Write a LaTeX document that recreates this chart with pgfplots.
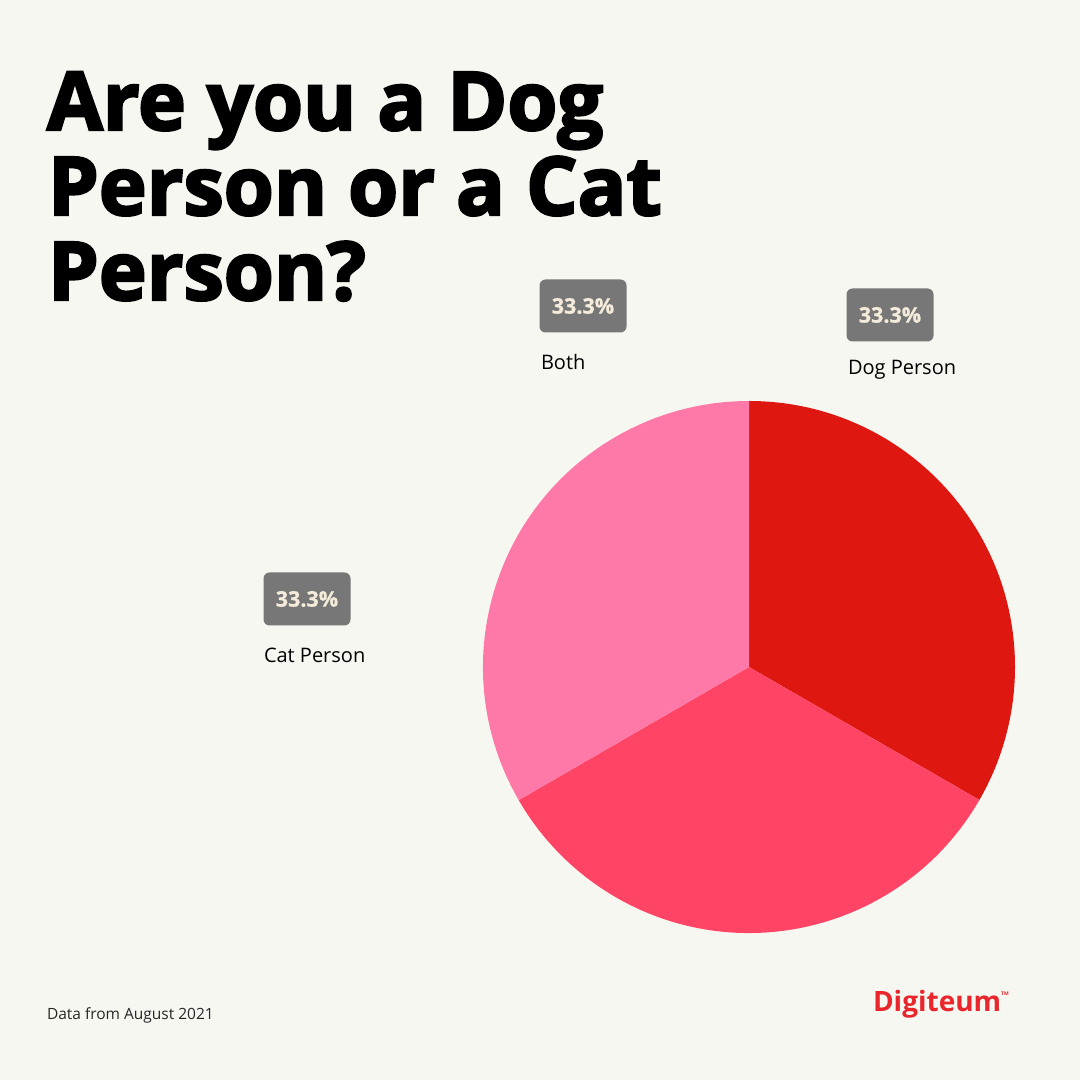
\documentclass[border=0pt]{standalone}
\usepackage{pgfplots}
\pgfplotsset{compat=1.18}
\usepackage{pgfplotstable}
\usepackage{fontspec}
\setmainfont{Open Sans}
\newfontfamily\titlefont[FakeBold=3]{Open Sans}
\newfontfamily\boxfont[FakeBold=1]{Open Sans}
\definecolor{bg}{HTML}{F7F7F2}
\definecolor{sliceA}{HTML}{DF1711}
\definecolor{sliceB}{HTML}{FF4466}
\definecolor{sliceC}{HTML}{FF79A8}
\definecolor{boxgray}{HTML}{777777}
\definecolor{cream}{HTML}{F4EBDA}
\definecolor{logored}{HTML}{E8262B}
\pgfplotstableread{
label share
Dog 33.33
Both 33.33
Cat 33.34
}\piedata
\pgfplotstablegetelem{0}{share}\of\piedata \let\sA\pgfplotsretval
\pgfplotstablegetelem{1}{share}\of\piedata \let\sB\pgfplotsretval
\pgfplotstablegetelem{2}{share}\of\piedata \let\sC\pgfplotsretval
\pgfmathsetmacro\aA{90}
\pgfmathsetmacro\aB{\aA-3.6*\sA}
\pgfmathsetmacro\aC{\aB-3.6*\sB}
\pgfmathsetmacro\aD{\aC-3.6*\sC}
\begin{document}
\begin{tikzpicture}[x=1pt,y=1pt]
\fill[bg] (0,0) rectangle (1080,1080);
\begin{axis}[at={(749pt,413pt)}, anchor=center, width=532pt, height=532pt,
  scale only axis, xmin=-1, xmax=1, ymin=-1, ymax=1, hide axis, clip=false]
\addplot[draw=none] coordinates {(0,0)};
\fill[sliceA] (axis cs:0,0) -- (axis cs:{cos(\aA)},{sin(\aA)}) arc[start angle=\aA, end angle=\aB, radius=266pt] -- cycle;
\fill[sliceB] (axis cs:0,0) -- (axis cs:{cos(\aB)},{sin(\aB)}) arc[start angle=\aB, end angle=\aC, radius=266pt] -- cycle;
\fill[sliceC] (axis cs:0,0) -- (axis cs:{cos(\aC)},{sin(\aC)}) arc[start angle=\aC, end angle=\aD, radius=266pt] -- cycle;
\end{axis}
\begin{scope}[every node/.style={inner sep=0pt, outer sep=0pt}]
\node[anchor=base west, font=\titlefont\bfseries\fontsize{81}{85}\selectfont] at (47,950) {Are you a Dog};
\node[anchor=base west, font=\titlefont\bfseries\fontsize{81}{85}\selectfont] at (48,865) {Person or a Cat};
\node[anchor=base west, font=\titlefont\bfseries\fontsize{81}{85}\selectfont] at (48,780) {Person?};
\node[anchor=base west, font=\fontsize{20}{24}\selectfont] at (541,710) {Both};
\node[anchor=base west, font=\fontsize{20}{24}\selectfont] at (848,705) {Dog Person};
\node[anchor=base west, font=\fontsize{20}{24}\selectfont] at (264,417) {Cat Person};
\node[anchor=base west, font=\fontsize{15.5}{19}\selectfont, text=black!85] at (47,60) {Data from August 2021};
\node[anchor=base west, font=\bfseries\fontsize{28}{32}\selectfont, text=logored] at (873,68) {Digiteum\raisebox{16pt}{\fontsize{5}{6}\selectfont TM}};
\end{scope}
\begin{scope}[every node/.style={fill=boxgray, rounded corners=6pt, minimum width=87pt, minimum height=53pt, inner sep=0pt, text=cream, font=\boxfont\bfseries\fontsize{21.5}{25}\selectfont}]
\node at (583,774) {33.3\%};
\node at (890,765) {33.3\%};
\node at (307,481) {33.3\%};
\end{scope}
\end{tikzpicture}
\end{document}
